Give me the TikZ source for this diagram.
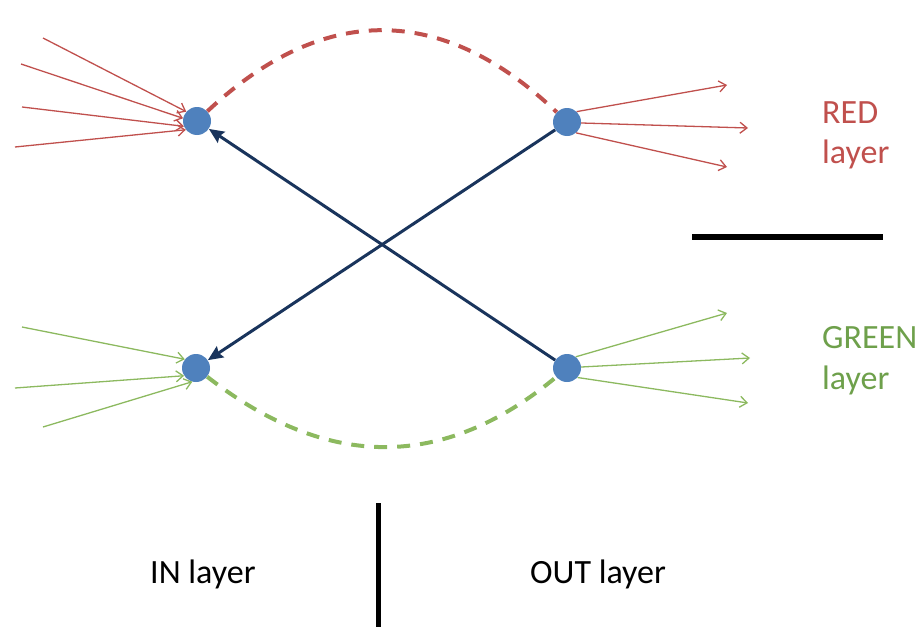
\documentclass[tikz,border=0pt]{standalone}
\usepackage{fontspec}
\setmainfont{Carlito}
\usetikzlibrary{arrows.meta}
\definecolor{dotblue}{RGB}{79,129,189}
\definecolor{navyc}{RGB}{25,52,92}
\definecolor{redl}{RGB}{192,80,77}
\definecolor{greenl}{RGB}{140,185,95}
\definecolor{greent}{RGB}{110,160,75}
\tikzset{
  dot/.style={circle, fill=dotblue, inner sep=0pt, minimum size=28pt},
  redarr/.style={draw=redl, line width=1.3pt, -{Straight Barb[length=7pt,width=11pt]}},
  greenarr/.style={draw=greenl, line width=1.3pt, -{Straight Barb[length=7pt,width=11pt]}},
  darr/.style={draw=navyc, line width=3pt, -{Stealth[length=15pt,width=13pt,inset=2pt]}},
  reddash/.style={draw=redl, line width=4pt, dash pattern=on 13pt off 10pt},
  greendash/.style={draw=greenl, line width=4pt, dash pattern=on 13pt off 10pt},
  lbl/.style={anchor=base west, inner sep=0pt, font=\fontsize{34}{40}\selectfont},
  bar/.style={draw=black, line width=5.5pt}
}
\begin{document}
\begin{tikzpicture}[x=1pt,y=-1pt]
\useasboundingbox (0,0) rectangle (916,629);
% nodes
\node[dot] (tl) at (197,121) {};
\node[dot] (tr) at (567,122) {};
\node[dot] (bl) at (196,368) {};
\node[dot] (br) at (567,368) {};
% free ends
\coordinate (r1) at (43,38);
\coordinate (r2) at (21,64);
\coordinate (r3) at (22,107);
\coordinate (r4) at (15,147);
\coordinate (ro1) at (727,85);
\coordinate (ro2) at (748,128);
\coordinate (ro3) at (727,167);
\coordinate (g1) at (22,327);
\coordinate (g2) at (15,388);
\coordinate (g3) at (43,427);
\coordinate (go1) at (727,313);
\coordinate (go2) at (750,358);
\coordinate (go3) at (748,403);
% dashed arcs
\draw[reddash] (tl) .. controls (323,3) and (442,3) .. (tr);
\draw[greendash] (bl) .. controls (327,470) and (443,471) .. (br);
% red arrows
\draw[redarr] (r1) -- (tl.139);
\draw[redarr] (r2) -- (tl.169);
\draw[redarr] (r3) -- (tl.202);
\draw[redarr] (r4) -- (tl.218);
\draw[redarr] (tr.47) -- (ro1);
\draw[redarr] (tr.356) -- (ro2);
\draw[redarr] (tr.310) -- (ro3);
% green arrows
\draw[greenarr] (g1) -- (bl.142);
\draw[greenarr] (g2) -- (bl.213);
\draw[greenarr] (g3) -- (bl.255);
\draw[greenarr] (br.52) -- (go1);
\draw[greenarr] (br.4) -- (go2);
\draw[greenarr] (br.318) -- (go3);
% crossing arrows
\draw[darr] (tr) -- (bl);
\draw[darr] (br) -- (tl);
% separators
\coordinate (h1) at (692,237);
\coordinate (h2) at (883,237);
\draw[bar, line width=6pt] (h1) -- (h2);
\coordinate (v1) at (378,503);
\coordinate (v2) at (378,627);
\draw[bar, line width=5pt] (v1) -- (v2);
% labels
\node[lbl, text=redl] (redA) at (822,123) {RED};
\node[lbl, text=redl] (redB) at (822,163) {layer};
\node[lbl, text=greent] (greenA) at (822,348) {GREEN};
\node[lbl, text=greent] (greenB) at (822,389) {layer};
\node[lbl, text=black] (inl) at (150,583) {IN layer};
\node[lbl, text=black] (outl) at (530,583) {OUT layer};
\end{tikzpicture}
\end{document}
